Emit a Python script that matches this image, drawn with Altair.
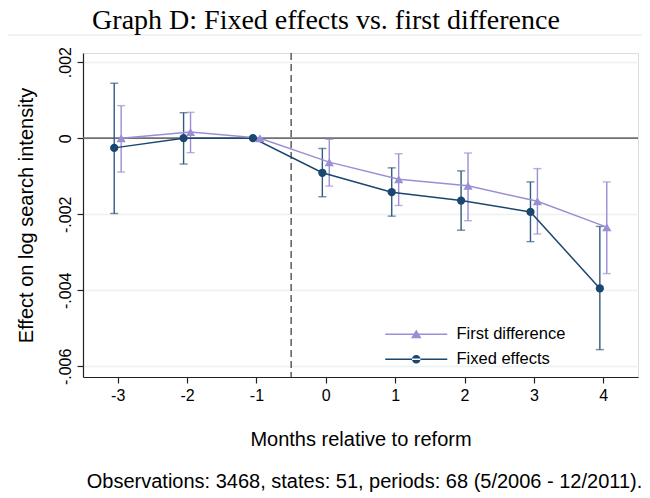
import altair as alt
import pandas as pd

# ---------------- data ----------------
months = [-3, -2, -1, 0, 1, 2, 3, 4]

fe_coef = [-0.000255, 0.0, 0.0, -0.00091, -0.00142, -0.00164, -0.00194, -0.00395]
fe_lo = [-0.00198, -0.00068, None, -0.00154, -0.00205, -0.00242, -0.00272, -0.00556]
fe_hi = [0.001445, 0.00067, None, -0.00027, -0.00078, -0.00086, -0.00115, -0.00232]

fd_coef = [0.0, 0.00016, 0.0, -0.00063, -0.00108, -0.00125, -0.00166, -0.00234]
fd_lo = [-0.00089, -0.00038, None, -0.00126, -0.00177, -0.00217, -0.00252, -0.00356]
fd_hi = [0.000856, 0.00068, None, -0.00003, -0.00041, -0.00039, -0.00080, -0.00115]

series_names = ["First difference", "Fixed effects"]
series_colors = ["#9a8fd5", "#1a476f"]
ci_colors = ["#9a8fd5", "#34597f"]

xtick_values = [-3, -2, -1, 0, 1, 2, 3, 4]
xtick_labels = ["-3", "-2", "-1", "0", "1", "2", "3", "4"]
ytick_values = [-0.006, -0.004, -0.002, 0.0, 0.002]
ytick_labels = ["-.006", "-.004", "-.002", "0", ".002"]

ref_zero = [0.0]
ref_reform = [-0.5]

title_text = ["Graph D: Fixed effects vs. first difference"]
x_title = "Months relative to reform"
y_title = "Effect on log search intensity"
note_text = ["Observations: 3468, states: 51, periods: 68 (5/2006 - 12/2011)."]

# legend symbols: a line with the marker on it
fd_path = ("M-5.64,-0.136L5.64,-0.136L5.64,0.136L-5.64,0.136Z "
           "M0,-0.85L0.95,0.72L-0.95,0.72Z")
fe_path = ("M-5.64,-0.136L5.64,-0.136L5.64,0.136L-5.64,0.136Z "
           "M-0.78,0A0.78,0.78 0 1,0 0.78,0A0.78,0.78 0 1,0 -0.78,0Z")

# ---------------- table ----------------
rows = []
for i, m in enumerate(months):
    rows.append(dict(series="Fixed effects", month=m, coef=fe_coef[i], lo=fe_lo[i], hi=fe_hi[i]))
for i, m in enumerate(months):
    rows.append(dict(series="First difference", month=m, coef=fd_coef[i], lo=fd_lo[i], hi=fd_hi[i]))
df = pd.DataFrame(rows)


def label_expr(values, labels):
    parts = [f"abs(datum.value - ({v})) < 1e-9 ? '{l}'" for v, l in zip(values, labels)]
    return " : ".join(parts) + " : ''"


SANS = "Liberation Sans"
SERIF = "Liberation Serif"

xscale = alt.Scale(domain=[-3.5, 4.5], nice=False, zero=False)
yscale = alt.Scale(domain=[-0.00628, 0.00224], nice=False, zero=False)

x_axis = alt.Axis(
    values=xtick_values, labelExpr=label_expr(xtick_values, xtick_labels),
    tickSize=6, labelPadding=4, labelFont=SANS, labelFontSize=16, labelColor="black",
    domainColor="#222222", tickColor="#222222", domainWidth=1.2, tickWidth=1.2,
    grid=False, title=x_title, titleFont=SANS, titleFontSize=20,
    titleFontWeight="normal", titleColor="black",
    titleBaseline="alphabetic", titleY=68,
)
y_axis = alt.Axis(
    values=ytick_values, labelExpr=label_expr(ytick_values, ytick_labels),
    labelAngle=270, labelAlign="center", labelBaseline="alphabetic", labelPadding=7,
    tickSize=6, labelFont=SANS, labelFontSize=16, labelColor="black",
    domainColor="#222222", tickColor="#222222", domainWidth=1.2, tickWidth=1.2,
    grid=True, gridColor="#eaf2f3", gridWidth=1.5,
    title=y_title, titleFont=SANS, titleFontSize=20, titleFontWeight="normal",
    titleColor="black", titleAngle=270, titleBaseline="alphabetic", titleX=-51, titleY=162,
)

base = alt.Chart(df).transform_calculate(
    xpos="datum.month + (datum.series == 'Fixed effects' ? -0.05 : 0.05)"
)
X = alt.X("xpos:Q", scale=xscale, axis=x_axis)

# separator line under the title
sep = alt.Chart(pd.DataFrame({"v": ref_zero})).mark_rule(color="#e4e4e4", strokeWidth=1).encode(
    y=alt.value(-18), x=alt.value(-83), x2=alt.value(567)
)

zero_line = alt.Chart(pd.DataFrame({"v": ref_zero})).mark_rule(color="#707070", strokeWidth=1.8).encode(
    y=alt.Y("v:Q", scale=yscale, axis=y_axis)
)
reform_line = alt.Chart(pd.DataFrame({"v": ref_reform})).mark_rule(
    color="#333333", strokeWidth=1.2, strokeDash=[7, 4]
).encode(x=alt.X("v:Q", scale=xscale, axis=x_axis))

title = alt.Chart(pd.DataFrame({"t": title_text})).mark_text(
    font=SERIF, fontSize=28, color="black", align="center", baseline="alphabetic"
).encode(text="t:N", x=alt.value(243), y=alt.value(-24))

note = alt.Chart(pd.DataFrame({"t": note_text})).mark_text(
    font=SANS, fontSize=20, color="black", align="center", baseline="alphabetic"
).encode(text="t:N", x=alt.value(281.5), y=alt.value(435))


def series_layers(name, color, ci_color, shape, size):
    sub = base.transform_filter(f"datum.series == '{name}'")
    ci = sub.transform_filter("isValid(datum.lo)")
    bars = ci.mark_rule(strokeWidth=1.4, color=ci_color).encode(
        x=X, y=alt.Y("lo:Q", scale=yscale, axis=y_axis), y2="hi:Q",
    )
    caps = ci.transform_fold(["lo", "hi"], as_=["end", "val"]).mark_tick(
        orient="horizontal", size=8, thickness=1.4, color=ci_color
    ).encode(x=X, y=alt.Y("val:Q", scale=yscale, axis=y_axis))
    line = sub.mark_line(strokeWidth=1.5, color=color).encode(
        x=X, y=alt.Y("coef:Q", scale=yscale, axis=y_axis), order="month:Q",
    )
    pts = sub.mark_point(filled=True, shape=shape, size=size, opacity=1, color=color).encode(
        x=X, y=alt.Y("coef:Q", scale=yscale, axis=y_axis)
    )
    return bars, caps, line, pts


fe_bars, fe_caps, fe_line, fe_pts = series_layers("Fixed effects", series_colors[1], ci_colors[1], "circle", 68)
fd_bars, fd_caps, fd_line, fd_pts = series_layers("First difference", series_colors[0], ci_colors[0], "triangle-up", 85)

leg = alt.Legend(
    title=None, orient="none", legendX=325, legendY=273, padding=0,
    labelFont=SANS, labelFontSize=16.5, labelColor="black", labelOffset=32,
    symbolSize=121, symbolStrokeWidth=0, symbolOpacity=1, rowPadding=8,
)
# invisible points (size 0) that only carry the legend
legend_layer = base.mark_point(filled=True, size=0, strokeWidth=0, opacity=1).encode(
    x=X, y=alt.Y("coef:Q", scale=yscale, axis=y_axis),
    fill=alt.Fill("series:N", scale=alt.Scale(domain=series_names, range=series_colors), legend=leg),
    shape=alt.Shape("series:N", scale=alt.Scale(domain=series_names, range=[fd_path, fe_path]), legend=leg),
)

chart = alt.layer(
    sep, zero_line, reform_line,
    fe_bars, fe_caps, fd_bars, fd_caps,
    fe_line, fd_line, fe_pts, fd_pts, legend_layer, title, note,
).properties(
    width=555, height=324,
    autosize=alt.AutoSizeParams(type="none"),
    padding={"left": 75, "top": 45, "right": 4, "bottom": 115},
).configure_view(stroke=None).configure(background="white")

chart.save("out.html", embed_options={"renderer": "svg", "actions": False})
